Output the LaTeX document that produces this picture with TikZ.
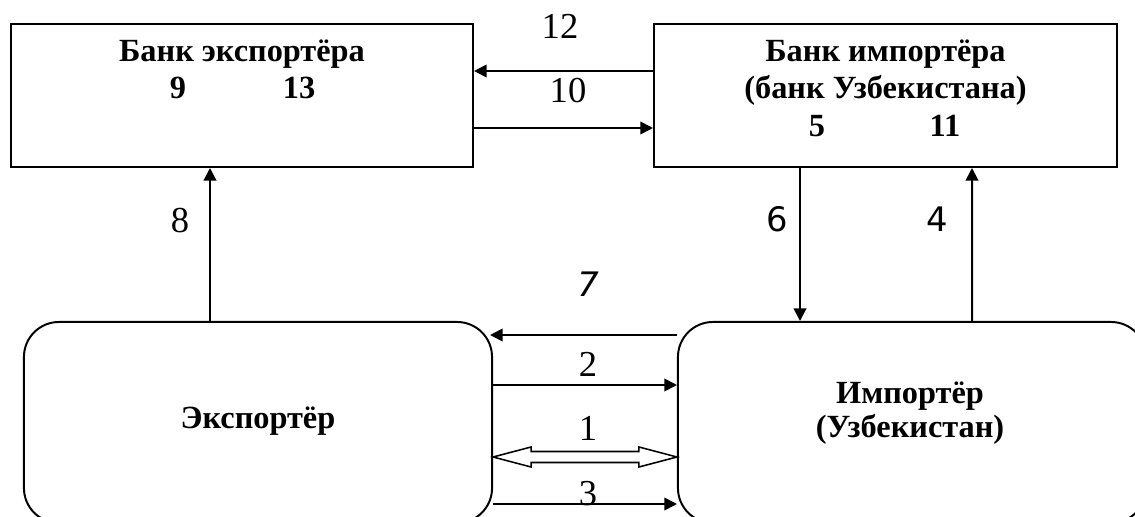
\documentclass[tikz,border=0pt]{standalone}
\usepackage{fontspec}
\setmainfont{Liberation Serif}
\newfontfamily\dejavu{DejaVu Sans}
\usetikzlibrary{arrows.meta,calc}

\tikzset{
  box/.style={draw, line width=1.4pt, inner sep=0pt},
  rbox/.style={box, rounded corners=0.875cm},
  conn/.style={line width=1.4pt, -{Triangle[length=9pt,width=9pt]}},
  num/.style={anchor=base, inner sep=0pt, font=\fontsize{26}{30}\selectfont},
  title/.style={anchor=base, inner sep=0pt, font=\fontsize{23}{27}\selectfont\bfseries},
}

\begin{document}
\begin{tikzpicture}[x=0.025cm, y=-0.025cm]
    \useasboundingbox (0,0) rectangle (1135,517);
    \clip (0,0) rectangle (1135,517);

    % banks
    \node[box, minimum width=11.55cm, minimum height=3.575cm] (bex) at (242,95.5) {};
    \node[box, minimum width=11.575cm, minimum height=3.575cm] (bim) at (885.5,95.5) {};
    \node[title] (bexT) at ($(bex.north)+(0,39)$) {Банк экспортёра};
    \node[title] (bex9) at ($(bex.north)+(-64,76)$) {9};
    \node[title] (bex13) at ($(bex.north)+(57,76)$) {13};
    \node[title] (bimT) at ($(bim.north)+(0,39)$) {Банк импортёра};
    \node[title] (bimU) at ($(bim.north)+(0,76)$) {(банк Узбекистана)};
    \node[title] (bim5) at ($(bim.north)+(-68.5,114)$) {5};
    \node[title] (bim11) at ($(bim.north)+(59.5,114)$) {11};

    % exporter and importer
    \node[rbox, minimum width=11.7cm, minimum height=5.025cm] (exp) at (258,422.5) {};
    \node[rbox, minimum width=11.7cm, minimum height=5.025cm] (imp) at (912,422.5) {};
    \node[title] (expT) at ($(exp.center)+(0,5.5)$) {Экспортёр};
    \node[title] (impT) at ($(imp.center)+(-2,-19.5)$) {Импортёр};
    \node[title] (impU) at ($(imp.center)+(-2,14.5)$) {(Узбекистан)};

    % bank to bank
    \draw[conn] ($(bim.west)+(0,-24.5)$) -- ($(bex.east)+(0,-24.5)$);
    \draw[conn] ($(bex.east)+(0,32.5)$) -- ($(bim.west)+(0,32.5)$);
    \node[num] (n12) at (560,39) {12};
    \node[num] (n10) at (568,103) {10};

    % vertical
    \draw[conn] ($(exp.north)+(-48,0)$) -- ($(bex.south)+(-32,0)$);
    \draw[conn] ($(bim.south)+(-85.5,0)$) -- ($(imp.north)+(-112,0)$);
    \draw[conn] ($(imp.north)+(60,0)$) -- ($(bim.south)+(86.5,0)$);
    \node[num] (n8) at (180,233) {8};
    \node[num, font=\fontsize{24}{28}\selectfont\dejavu] (n6) at (777,232) {6};
    \node[num, font=\fontsize{24}{28}\selectfont\dejavu] (n4) at (937,232) {4};

    % exporter <-> importer
    \draw[conn] ($(imp.west)+(0,-87.5)$) -- ($(exp.east)+(-3,-87.5)$);
    \draw[conn] ($(exp.east)+(0,-37.5)$) -- ($(imp.west)+(0,-37.5)$);
    \draw[conn] ($(exp.east)+(0,81.5)$) -- ($(imp.west)+(0,81.5)$);
    \coordinate (d1) at ($(exp.east)+(0,34.5)$);
    \coordinate (d2) at ($(imp.west)+(0,34.5)$);
    \draw[line width=1.1pt] (d1) -- ++(38,-10) -- ++(0,4.5) -- ($(d2)+(-38,-5.5)$)
      -- ++(0,-4.5) -- (d2) -- ++(-38,10) -- ++(0,-4.5) -- ($(d1)+(38,5.5)$)
      -- ++(0,4.5) -- cycle;
    \node[num, font=\fontsize{24}{28}\selectfont\dejavu\itshape] (n7) at (588,296) {7};
    \node[num] (n2) at (588,376) {2};
    \node[num] (n1) at (588,440) {1};
    \node[num] (n3) at (588,505) {3};
\end{tikzpicture}
\end{document}
